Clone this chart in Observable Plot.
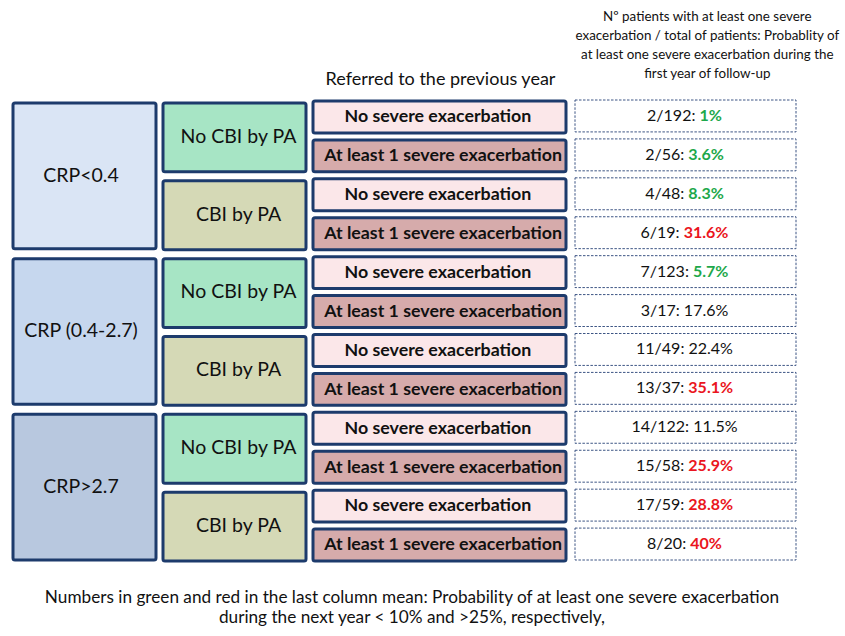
<!DOCTYPE html>
<html>
<head>
<meta charset="utf-8">
<script src="https://cdn.jsdelivr.net/npm/d3@7"></script>
<script src="https://cdn.jsdelivr.net/npm/@observablehq/plot@0.6"></script>
<style>
  html, body { margin: 0; padding: 0; background: #fff; }
</style>
</head>
<body>
<div id="chart"></div>
<script>
// ---- data ----
const crpLabels = ["CRP<0.4", "CRP (0.4-2.7)", "CRP>2.7"];
const cbiLabels = ["No CBI by PA", "CBI by PA"];
const priorLabels = ["No severe exacerbation", "At least 1 severe exacerbation"];
const events = [2, 2, 4, 6, 7, 3, 11, 13, 14, 15, 17, 8];
const totals = [192, 56, 48, 19, 123, 17, 49, 37, 122, 58, 59, 20];
const pctLabels = ["1%", "3.6%", "8.3%", "31.6%", "5.7%", "17.6%", "22.4%", "35.1%", "11.5%", "25.9%", "28.8%", "40%"];
const columnHeader = "Referred to the previous year";
const resultHeaderLines = [
  "Nº patients with at least one severe",
  "exacerbation / total of patients: Probablity of",
  "at least one severe exacerbation during the",
  "first year of follow-up"
];
const captionLines = [
  "Numbers in green and red in the last column mean: Probability of at least one severe exacerbation",
  "during the next year < 10% and >25%, respectively,"
];
const lowThreshold = 10, highThreshold = 25;

// ---- styles ----
const navy = "#1d3b6c";
const crpFills = ["#dae5f5", "#c6d7ee", "#b8c8df"];
const cbiFills = ["#a7e5c5", "#d5d9b6"];
const priorFills = ["#fbe7e9", "#d6abab"];
const green = "#1ea84b", red = "#ea1520";

// ---- tables ----
const crpRows = crpLabels.map((label, i) => ({label, col: 0, y1: i * 4, y2: i * 4 + 4, fill: crpFills[i]}));
const cbiRows = d3.range(6).map(i => ({label: cbiLabels[i % 2], col: 1, y1: i * 2, y2: i * 2 + 2, fill: cbiFills[i % 2]}));
const leafRows = d3.range(12).map(i => ({label: priorLabels[i % 2], col: 2, y1: i, y2: i + 1, fill: priorFills[i % 2], shift: i % 2 ? 0.02 : 0}));
const resultRows = d3.range(12).map(i => ({
  label: `${events[i]}/${totals[i]}: ${pctLabels[i]}`,
  frac: `${events[i]}/${totals[i]}:`,
  pct: pctLabels[i],
  col: 3, y1: i, y2: i + 1
}));

const mid = d => (d.y1 + d.y2) / 2;

const svg = Plot.plot({
  width: 845,
  height: 636,
  marginTop: 0, marginRight: 0, marginBottom: 0, marginLeft: 0,
  style: {fontFamily: "Lato, 'Liberation Sans', sans-serif", background: "#fff", color: "#111"},
  x: {type: "linear", domain: [0, 1, 2, 3, 4], range: [10, 160, 310, 570, 798], axis: null},
  y: {type: "linear", domain: [0, 12], range: [99, 566], axis: null},
  color: {type: "identity"},
  marks: [
    // CRP boxes
    Plot.rect(crpRows, {x1: d => d.col, x2: d => d.col + 1, y1: "y1", y2: "y2", fill: "fill",
      stroke: navy, strokeWidth: 3, insetLeft: 3, insetRight: 4, insetTop: 4, insetBottom: 6, rx: 2}),
    Plot.text(crpRows, {x: d => d.col + 0.47, y: d => mid(d) - 0.05, text: "label", fontSize: 19.5, fill: "#111"}),
    // CBI boxes
    Plot.rect(cbiRows, {x1: d => d.col, x2: d => d.col + 1, y1: "y1", y2: "y2", fill: "fill",
      stroke: navy, strokeWidth: 3, insetLeft: 3, insetRight: 4, insetTop: 4, insetBottom: 5, rx: 2}),
    Plot.text(cbiRows, {x: d => d.col + 0.52, y: d => mid(d) - 0.05, text: "label", fontSize: 19.5, fill: "#111"}),
    // prior-year boxes
    Plot.rect(leafRows, {x1: d => d.col, x2: d => d.col + 1, y1: "y1", y2: "y2", fill: "fill",
      stroke: navy, strokeWidth: 3, insetLeft: 3, insetRight: 4, insetTop: 2, insetBottom: 5, rx: 2}),
    Plot.text(leafRows, {x: d => d.col + 0.49 + d.shift, y: d => mid(d) - 0.06, text: "label", fontSize: 17.8, fontWeight: "bold", fill: "#111"}),
    // result boxes
    Plot.rect(resultRows, {x1: d => d.col, x2: d => d.col + 1, y1: "y1", y2: "y2", fill: "#fff",
      stroke: "#3d5584", strokeWidth: 1, strokeDasharray: "2.5,1.5", insetLeft: 5, insetRight: 2, insetTop: 1, insetBottom: 6}),
    Plot.text(resultRows, {x: d => d.col + 0.5, y: d => mid(d) - 0.08, text: "label", fontSize: 16, fill: "#111"}),
    // headers
    Plot.text([columnHeader], {x: () => 2.5, y: () => -0.52, text: d => d, fontSize: 18, fill: "#111"}),
    Plot.text([resultHeaderLines.join("\n")], {x: () => 3.6, y: () => -1.44, text: d => d, fontSize: 13.4, lineHeight: 1.42, fill: "#111"}),
    // caption
    Plot.text([captionLines.join("\n")], {x: () => 2.39, y: () => 13.03, text: d => d, fontSize: 17.2, lineHeight: 1.15, fill: "#111"})
  ]
});

// colour the probability part of each result label
const resultByLabel = new Map(resultRows.map(r => [r.label, r]));
d3.select(svg).selectAll("text").each(function() {
  const row = resultByLabel.get(this.textContent);
  if (!row) return;
  const v = parseFloat(row.pct);
  const sel = d3.select(this).style("white-space", "pre").text(null);
  sel.append("tspan").text(row.frac + " ");
  const t = sel.append("tspan").text(row.pct);
  if (v < lowThreshold) t.attr("fill", green).attr("font-weight", "bold");
  else if (v > highThreshold) t.attr("fill", red).attr("font-weight", "bold");
});

document.getElementById("chart").appendChild(svg);
</script>
</body>
</html>
